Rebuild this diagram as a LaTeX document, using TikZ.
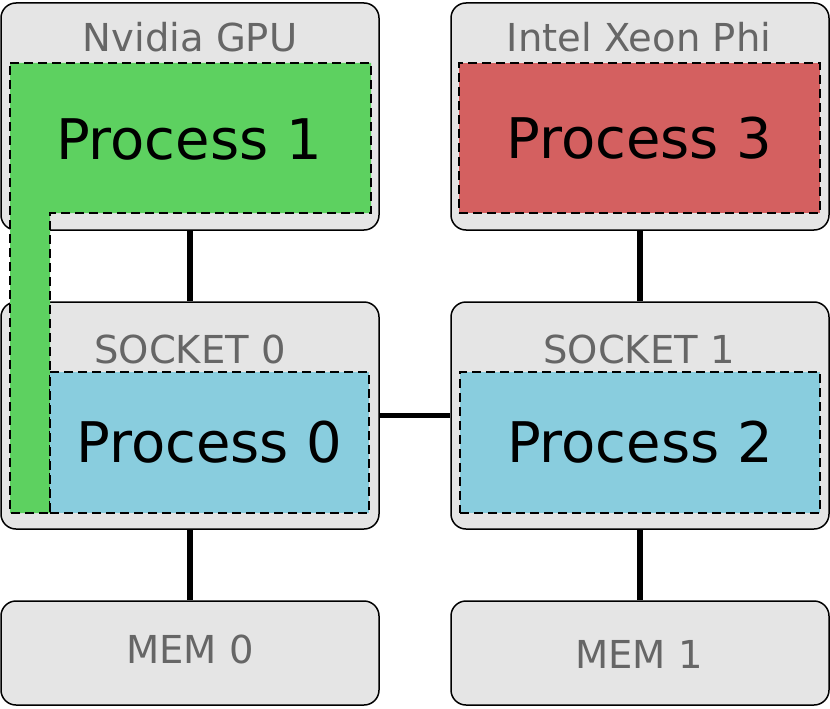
\documentclass[tikz,border=0pt]{standalone}
\usepackage{fontspec}
\setmainfont{DejaVu Sans}
\usetikzlibrary{positioning}
\definecolor{boxgray}{HTML}{E5E5E5}
\definecolor{labelgray}{HTML}{666666}
\definecolor{gpugreen}{HTML}{5DD160}
\definecolor{procblue}{HTML}{89CDDE}
\definecolor{phired}{HTML}{D46060}

\begin{document}
\begin{tikzpicture}[x=1pt, y=-1pt,
  unit/.style={draw=black, line width=1.5pt, fill=boxgray, rounded corners=15pt,
               minimum width=378pt, inner sep=0pt},
  proc/.style={draw=black, line width=2.5pt, dash pattern=on 9pt off 5pt, inner sep=0pt},
  bigtxt/.style={font=\fontsize{56}{66}\selectfont},
  tag/.style={text=labelgray, font=\fontsize{38.5}{46}\selectfont, anchor=base},
  link/.style={line width=5.5pt}]

\useasboundingbox (0,0) rectangle (830,709);

% ---- hardware units -----------------------------------------------------
\node[unit, minimum height=227pt] (gpu)   at (190,116.5) {};
\node[unit, minimum height=227pt] (phi)   at (640,116.5) {};
\node[unit, minimum height=227pt] (sock0) at (190,415.5) {};
\node[unit, minimum height=227pt] (sock1) at (640,415.5) {};
\node[unit, minimum height=104pt] (mem0)  at (190,653) {};
\node[unit, minimum height=104pt] (mem1)  at (640,653) {};

\node[tag] (gpulbl)   at (190,52)  {Nvidia GPU};
\node[tag] (philbl)   at (639,52)  {Intel Xeon Phi};
\node[tag] (sock0lbl) at (190,363) {SOCKET 0};
\node[tag] (sock1lbl) at (639,363) {SOCKET 1};
\node[tag] (mem0lbl)  at (190,663) {MEM 0};
\node[tag] (mem1lbl)  at (639,668) {MEM 1};

% ---- links --------------------------------------------------------------
\draw[link] (gpu) -- (sock0);
\draw[link] (phi) -- (sock1);
\draw[link] (sock0) -- (sock1);
\draw[link] (sock0) -- (mem0);
\draw[link] (sock1) -- (mem1);

% ---- processes ----------------------------------------------------------
\draw[proc, fill=gpugreen] (10,63) -- (371,63) -- (371,213) -- (50,213)
  -- (50,513) -- (10,513) -- cycle;
\node[bigtxt, anchor=base] (p1) at (189,159) {Process 1};
\node[proc, bigtxt, fill=phired, minimum width=361pt, minimum height=150pt]
  (p3) at (639.5,138) {Process 3};
\node[proc, bigtxt, fill=procblue, minimum width=319pt, minimum height=141pt]
  (p0) at (209.5,442.5) {Process 0};
\node[proc, bigtxt, fill=procblue, minimum width=360pt, minimum height=141pt]
  (p2) at (640,442.5) {Process 2};
\end{tikzpicture}
\end{document}
